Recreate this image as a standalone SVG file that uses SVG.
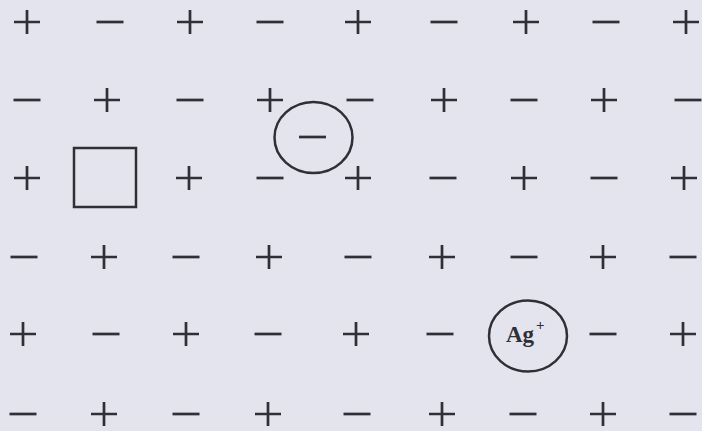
<svg xmlns="http://www.w3.org/2000/svg" width="702" height="431" viewBox="0 0 702 431">
<defs>
<style>
.s{stroke:#2f2f35;stroke-width:2.7;fill:none;stroke-linecap:butt}
.o{stroke:#2f2f35;stroke-width:2.5;fill:none}
.t{font-family:"Liberation Serif",serif;font-weight:bold;fill:#2f2f35}
</style>
<path id="p" class="s" d="M-13,0H13M0,-12V12"/>
<path id="m" class="s" d="M-13.5,0H13.5"/>
</defs>
<rect width="702" height="431" fill="#e4e4ee"/>
<g id="row1">
<use href="#p" x="27" y="22"/><use href="#m" x="110" y="22"/><use href="#p" x="190" y="22"/><use href="#m" x="270" y="22"/><use href="#p" x="358" y="22"/><use href="#m" x="444" y="22"/><use href="#p" x="526" y="22"/><use href="#m" x="606" y="22"/><use href="#p" x="686" y="22"/>
</g>
<g id="row2">
<use href="#m" x="27" y="100"/><use href="#p" x="107" y="100"/><use href="#m" x="190" y="100"/><use href="#p" x="270" y="100"/><use href="#m" x="360" y="100"/><use href="#p" x="444" y="100"/><use href="#m" x="524" y="100"/><use href="#p" x="604" y="100"/><use href="#m" x="688" y="100"/>
</g>
<g id="row3">
<use href="#p" x="27" y="178"/><use href="#p" x="189" y="178"/><use href="#m" x="270" y="178"/><use href="#p" x="358" y="178"/><use href="#m" x="443" y="178"/><use href="#p" x="524" y="178"/><use href="#m" x="604" y="178"/><use href="#p" x="684" y="178"/>
</g>
<g id="row4">
<use href="#m" x="24" y="257"/><use href="#p" x="104" y="257"/><use href="#m" x="186" y="257"/><use href="#p" x="269" y="257"/><use href="#m" x="358" y="257"/><use href="#p" x="442" y="257"/><use href="#m" x="524" y="257"/><use href="#p" x="603" y="257"/><use href="#m" x="683" y="257"/>
</g>
<g id="row5">
<use href="#p" x="23" y="334"/><use href="#m" x="106" y="334"/><use href="#p" x="186" y="334"/><use href="#m" x="268" y="334"/><use href="#p" x="356" y="334"/><use href="#m" x="440" y="334"/><use href="#m" x="603" y="334"/><use href="#p" x="683" y="334"/>
</g>
<g id="row6">
<use href="#m" x="23" y="414"/><use href="#p" x="104" y="414"/><use href="#m" x="186" y="414"/><use href="#p" x="268" y="414"/><use href="#m" x="357" y="414"/><use href="#p" x="442" y="414"/><use href="#m" x="523" y="414"/><use href="#p" x="603" y="414"/><use href="#m" x="683" y="414"/>
</g>
<g id="vacancy">
<rect class="o" x="74" y="148" width="62" height="59"/>
</g>
<g id="interstitial-anion">
<ellipse class="o" cx="313.5" cy="137.5" rx="39" ry="35.5"/>
<use href="#m" x="312.5" y="137"/>
</g>
<g id="silver-ion">
<ellipse class="o" cx="528" cy="336" rx="39" ry="35.5"/>
<text class="t" x="506" y="342" font-size="23">Ag</text>
<text class="t" x="536" y="330" font-size="15">+</text>
</g>
<g id="connectors"/>
</svg>
